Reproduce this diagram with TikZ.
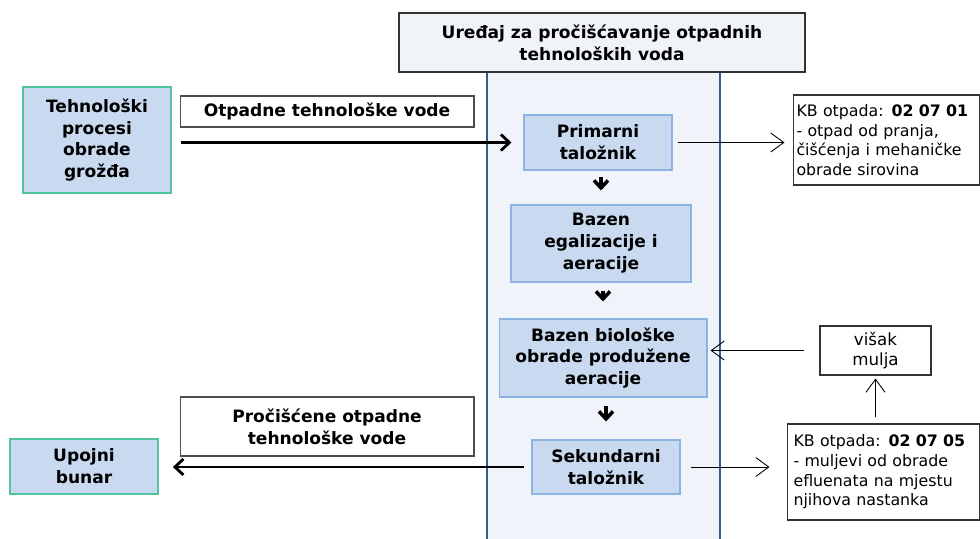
\documentclass[tikz,border=0pt]{standalone}
\usepackage{fontspec}
\setmainfont{DejaVu Sans}
\usetikzlibrary{arrows.meta}

\definecolor{stepfill}{RGB}{200,217,240}
\definecolor{stepline}{RGB}{141,179,226}
\definecolor{plantfill}{RGB}{240,244,250}
\definecolor{plantline}{RGB}{52,92,140}
\definecolor{endline}{RGB}{80,195,160}
\definecolor{titlefill}{RGB}{240,243,248}

\begin{document}
\begin{tikzpicture}[x=0.02cm,y=-0.02cm,
  txt/.style={font=\fontsize{9.7}{12.5}\selectfont\bfseries,align=center},
  stepbox/.style={txt,draw=stepline,fill=stepfill,line width=0.6pt,inner sep=0pt},
  endbox/.style={txt,draw=endline,fill=stepfill,line width=1pt,inner sep=0pt},
  labelbox/.style={txt,draw=black!70,fill=white,line width=0.6pt,inner sep=0pt},
  kbbox/.style={draw=black!80,fill=white,line width=0.6pt,align=left,
    font=\fontsize{9}{11.2}\selectfont,inner sep=0.6mm,text width=3.6cm},
  flow/.style={line width=1.6pt,-{Straight Barb[length=1.7mm,width=3.2mm,line width=1.6pt]}},
  down/.style={line width=2pt,-{Straight Barb[length=1.5mm,width=2.8mm,line width=2pt]}},
  thin/.style={line width=0.5pt,-{Straight Barb[length=2.6mm,width=3.8mm]}}]
\useasboundingbox (0,0) rectangle (980,538);

% uredjaj
\node[draw=plantline,fill=plantfill,line width=1.6pt,minimum width=4.66cm,minimum height=9.76cm,inner sep=0pt] (plant) at (603.5,316) {};
\node[txt,draw=black!80,fill=titlefill,line width=0.8pt,minimum width=8.12cm,minimum height=1.18cm,inner sep=0pt] (title) at (602,42.5)
  {Uređaj za pročišćavanje otpadnih\\tehnoloških voda};

% koraci obrade
\node[stepbox,minimum width=2.96cm,minimum height=1.1cm] (prim) at (598,142.5) {Primarni\\taložnik};
\node[stepbox,minimum width=3.6cm,minimum height=1.54cm] (egal) at (601,243.5) {Bazen\\egalizacije i\\aeracije};
\node[stepbox,minimum width=4.16cm,minimum height=1.56cm] (bio) at (603,358) {Bazen biološke\\obrade produžene\\aeracije};
\node[stepbox,minimum width=2.96cm,minimum height=1.08cm] (sek) at (606,467) {Sekundarni\\taložnik};

% ulaz i izlaz
\node[endbox,minimum width=2.96cm,minimum height=2.12cm] (tech) at (97,140) {Tehnološki\\procesi\\obrade\\grožđa};
\node[endbox,minimum width=2.96cm,minimum height=1.1cm] (bunar) at (84,466.5) {Upojni\\bunar};
\node[labelbox,minimum width=5.88cm,minimum height=0.62cm] (otpadne) at (327,111.5) {Otpadne tehnološke vode};
\node[labelbox,minimum width=5.88cm,minimum height=1.18cm] (procisc) at (327,426.5) {Pročišćene otpadne\\tehnološke vode};

% otpad
\node[kbbox,minimum width=3.74cm,minimum height=1.8cm] (kbprim) at (886.5,140)
  {KB otpada: \textbf{02 07 01}\\- otpad od pranja,\\čišćenja i mehaničke\\obrade sirovina};
\node[kbbox,minimum width=3.86cm,minimum height=1.92cm] (kbsek) at (883.5,472)
  {KB otpada: \textbf{02 07 05}\\- muljevi od obrade\\efluenata na mjestu\\njihova nastanka};
\node[draw=black!80,fill=white,line width=0.6pt,align=center,font=\fontsize{9.5}{11.4}\selectfont,
  minimum width=2.22cm,minimum height=0.98cm,inner sep=0pt] (visak) at (875.5,350.5) {višak\\mulja};

% tokovi
\draw[flow,shorten <=1.8mm,shorten >=2.4mm] (tech.east |- prim.west) -- (prim.west);
\draw[flow,shorten <=1.4mm,shorten >=2.8mm] (sek.west) -- (sek.west -| bunar.east);
\draw[down,shorten <=1.2mm,shorten >=2.8mm] (egal.north |- prim.south) -- (egal.north);
\draw[down,shorten <=1.6mm,shorten >=3.4mm] (bio.north |- egal.south) -- (bio.north);
\draw[down,shorten <=1.6mm,shorten >=3.6mm] (sek.north |- bio.south) -- (sek.north);
\draw[thin,shorten <=1mm,shorten >=1.6mm] (prim.east) -- (prim.east -| kbprim.west);
\draw[thin,shorten <=2mm,shorten >=3.4mm] (sek.east) -- (sek.east -| kbsek.west);
\draw[thin,shorten <=1.2mm,shorten >=0.6mm] (kbsek.north -| visak.south) -- (visak.south);
\draw[thin,shorten <=3mm,shorten >=0.6mm] (visak.west) -- (visak.west -| bio.east);
\end{tikzpicture}
\end{document}
